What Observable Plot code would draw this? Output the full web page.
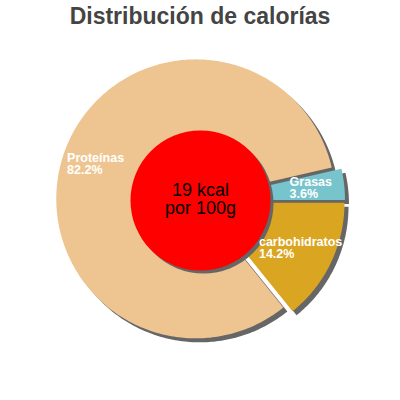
<!DOCTYPE html>
<html>
<head>
<meta charset="utf-8">
<script src="https://cdn.jsdelivr.net/npm/d3@7"></script>
<script src="https://cdn.jsdelivr.net/npm/@observablehq/plot@0.6"></script>
<style>
  html, body { margin: 0; padding: 0; background: #fff; }
  #title { width: 400px; height: 33px; padding-top: 3px; line-height: 28px; text-align: center;
           font: bold 23px "Liberation Sans", Arial, sans-serif; color: #444; }
  #chart svg { display: block; }
</style>
</head>
<body>
<div id="title"></div>
<div id="chart"></div>
<script>
const titleText = "Distribución de calorías";
const categories = ["Proteínas", "Grasas", "carbohidratos"];
const percents = [82.2, 3.6, 14.2];
const percentLabels = ["82.2%", "3.6%", "14.2%"];
const colors = ["#eec591", "#77c4cc", "#daa520"];
const centerLines = ["19 kcal", "por 100g"];

document.getElementById("title").textContent = titleText;

// geometry (page pixel space)
const W = 400, H = 400, TOP = 36;
const cx = 200, cy = 200, R = 139.5, RIN = 70, EXPLODE = 5, LABEL_R = 111;
const labelFont = "bold 12.5px 'Liberation Sans'";

const total = d3.sum(percents);
const start = Math.PI / 2 + 2 * Math.PI * percents[2] / total;
const arcs = d3.pie().sort(null).startAngle(start).endAngle(start + 2 * Math.PI)(percents);

const rows = [];
const labels = [];
const ctx = document.createElement("canvas").getContext("2d");
ctx.font = labelFont;
arcs.forEach((a, i) => {
  const mid = (a.startAngle + a.endAngle) / 2;
  const ox = EXPLODE * Math.sin(mid), oy = -EXPLODE * Math.cos(mid);
  const px = cx + ox, py = cy + oy;
  rows.push({key: categories[i], x: px, y: py, color: colors[i]});
  const n = Math.max(4, Math.ceil((a.endAngle - a.startAngle) / (Math.PI / 180)));
  for (let k = 0; k <= n; ++k) {
    const t = a.startAngle + (a.endAngle - a.startAngle) * k / n;
    rows.push({key: categories[i], x: px + R * Math.sin(t), y: py - R * Math.cos(t), color: colors[i]});
  }
  const w = Math.max(ctx.measureText(categories[i]).width, ctx.measureText(percentLabels[i]).width);
  labels.push({
    text: categories[i] + "\n" + percentLabels[i],
    x: cx + LABEL_R * Math.sin(mid) - w / 2,
    y: cy - LABEL_R * Math.cos(mid)
  });
});

const chart = Plot.plot({
  width: W, height: H - TOP,
  margin: 0,
  x: {domain: [0, W], range: [0, W], axis: null},
  y: {domain: [TOP, H], range: [0, H - TOP], axis: null},
  color: {type: "identity"},
  style: {background: "#fff", overflow: "visible"},
  marks: [
    Plot.line(rows, {x: "x", y: "y", z: "key", fill: "#666", stroke: null, curve: "linear-closed", dx: 4, dy: 4}),
    Plot.line(rows, {x: "x", y: "y", z: "key", fill: "color", stroke: null, curve: "linear-closed"}),
    Plot.dot([{x: cx, y: cy}], {x: "x", y: "y", r: RIN, fill: "#666", stroke: null, dx: 3, dy: 3}),
    Plot.dot([{x: cx, y: cy}], {x: "x", y: "y", r: RIN, fill: "#ff0000", stroke: null}),
    Plot.text([centerLines.join("\n")], {x: () => cx, y: () => cy - 1, text: d => d, fontSize: 18,
      lineHeight: 0.95, fill: "#000", textAnchor: "middle", lineAnchor: "middle",
      fontFamily: "'Liberation Sans', Arial, sans-serif"}),
    Plot.text(labels, {x: "x", y: "y", text: "text", fontSize: 12.5, fontWeight: "bold",
      lineHeight: 0.98, fill: "#fff", textAnchor: "start", lineAnchor: "middle",
      fontFamily: "'Liberation Sans', Arial, sans-serif"})
  ]
});
document.getElementById("chart").appendChild(chart);
</script>
</body>
</html>
